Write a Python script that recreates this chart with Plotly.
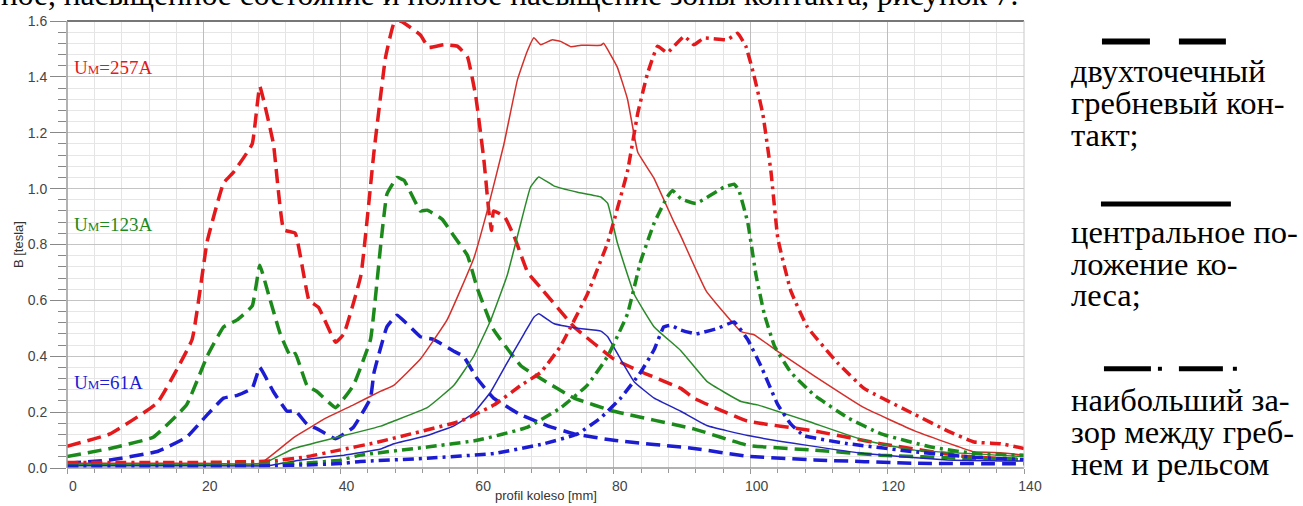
import plotly.graph_objects as go

# ---------------- data ----------------
# two-point flange contact (dashed)
x_red_dash = [0, 6.3, 13.2, 18.3, 20.5, 22.9, 24.4, 27.1, 28.2, 30.2, 31.7, 33.4, 35.4, 36.8, 39.3, 40.5, 43, 44.9, 46.6, 47.8, 48.8,
              51.7, 52.9, 55.1, 57.1, 58.6, 59.8, 61, 61.7, 62.1, 62.4, 64, 65.4, 67.4, 69.3, 74.2, 80, 84.4, 89.8, 91.7, 99.5,
              109.3, 119, 131.2, 140]
y_red_dash = [0.078, 0.122, 0.233, 0.46, 0.81, 1.02, 1.06, 1.16, 1.366, 1.16, 0.853, 0.84, 0.6, 0.575, 0.45, 0.48, 0.69, 1.13, 1.47, 1.59, 1.60,
              1.55, 1.505, 1.515, 1.51, 1.47, 1.33, 1.1, 0.92, 0.85, 0.92, 0.90, 0.83, 0.70, 0.645, 0.505, 0.39, 0.34, 0.285, 0.25, 0.168,
              0.133, 0.087, 0.042, 0.03]

x_green_dash = [0, 6.3, 12.6, 17.5, 20.5, 22.9, 24.9, 27.1, 28.2, 29.5, 31.2, 32.7, 33.4, 35.1, 36.6, 39.3, 41.9, 44.4, 45.9, 46.8,
                48.3, 49.3, 51.7, 52.7, 54.9, 56.6, 58.6, 60, 62.4, 66.4, 69.3, 74.2, 80, 91.7, 99.6, 109.3, 119, 131.2, 140]
y_green_dash = [0.041, 0.07, 0.11, 0.226, 0.40, 0.505, 0.53, 0.58, 0.726, 0.62, 0.48, 0.40, 0.41, 0.296, 0.273, 0.216, 0.296, 0.46, 0.80, 0.98,
                1.04, 1.03, 0.92, 0.923, 0.89, 0.83, 0.76, 0.645, 0.495, 0.366, 0.32, 0.25, 0.203, 0.14, 0.081, 0.064, 0.046, 0.035, 0.03]

x_blue_dash = [0, 6.3, 13.2, 17.5, 20.5, 22.9, 24.9, 27.1, 28.2, 30.2, 32.2, 33.4, 35.1, 36.6, 39.3, 41.9, 44.4, 44.9, 46.8, 48.3,
               51.7, 53.6, 56.6, 58, 60, 62.4, 66.4, 70.3, 74.2, 80, 91.7, 99.6, 109.3, 124, 140]
y_blue_dash = [0.017, 0.029, 0.059, 0.11, 0.19, 0.25, 0.26, 0.285, 0.36, 0.273, 0.203, 0.205, 0.157, 0.14, 0.105, 0.146, 0.25, 0.34, 0.505, 0.547,
               0.47, 0.46, 0.418, 0.40, 0.32, 0.25, 0.19, 0.151, 0.122, 0.099, 0.07, 0.042, 0.029, 0.017, 0.015]

# central wheel position (solid)
x_red_solid = [0, 10, 20, 28.3, 33.2, 38, 41.9, 45.9, 47.8, 51.7, 55.6, 59.5, 61.5, 63.9, 65.9, 67.3, 68.3, 69.3, 71, 72.2, 73.7, 75.2,
               78.1, 78.5, 80.5, 82, 83.5, 85.8, 88.8, 89.8, 93.5, 98.6, 100.5, 104.4, 109.3, 116.6, 124, 132.7, 136.6, 140]
y_red_solid = [0.017, 0.017, 0.017, 0.017, 0.11, 0.18, 0.226, 0.275, 0.296, 0.39, 0.53, 0.75, 0.923, 1.157, 1.39, 1.49, 1.54, 1.515, 1.533, 1.527, 1.508, 1.513,
               1.513, 1.52, 1.435, 1.32, 1.13, 1.04, 0.88, 0.83, 0.634, 0.488, 0.477, 0.41, 0.33, 0.216, 0.133, 0.058, 0.055, 0.046]

x_green_solid = [0, 10, 20, 28.3, 33.2, 39.5, 45.9, 47.8, 52.7, 56.6, 59.5, 62, 64.4, 66.4, 67.8, 69, 71.2, 74.7, 78.1, 79.1, 80.5,
                 83, 85.9, 89.8, 93.7, 98.6, 101, 108.3, 116.6, 124, 140]
y_green_solid = [0.012, 0.012, 0.012, 0.012, 0.07, 0.11, 0.15, 0.168, 0.216, 0.296, 0.40, 0.53, 0.69, 0.878, 1.005, 1.042, 1.01, 0.987, 0.97, 0.947, 0.807,
                 0.621, 0.505, 0.42, 0.308, 0.238, 0.226, 0.168, 0.099, 0.064, 0.041]

x_blue_solid = [0, 10, 20, 29.3, 34.2, 40.5, 45.9, 47.8, 52.7, 56.6, 59.5, 62, 64.4, 66.9, 68.3, 69, 71.2, 74.7, 78.1, 79.1, 81,
                83, 85.9, 89.8, 93.7, 99.6, 108.3, 116.6, 128.8, 140]
y_blue_solid = [0.008, 0.008, 0.008, 0.008, 0.029, 0.046, 0.068, 0.087, 0.116, 0.151, 0.197, 0.273, 0.377, 0.482, 0.54, 0.552, 0.517, 0.50, 0.49, 0.47, 0.389,
                0.308, 0.25, 0.203, 0.151, 0.116, 0.081, 0.052, 0.029, 0.025]

# largest flange-rail gap (dash-dot)
x_red_dd = [0, 20, 30, 35, 40, 45, 50.3, 57.6, 62.5, 66.4, 69.3, 72.2, 76.1, 79.1, 82, 83.5, 84.9, 86.4, 87.8, 90.3, 91.7, 93.2,
            96.6, 98.1, 99.3, 100.5, 101.8, 103, 104, 105.9, 108.3, 112.7, 116.6, 124, 128.8, 132.7, 136.6, 140]
y_red_dd = [0.02, 0.02, 0.025, 0.04, 0.065, 0.09, 0.122, 0.168, 0.226, 0.296, 0.342, 0.436, 0.621, 0.807, 1.063, 1.27, 1.41, 1.51, 1.487, 1.545, 1.515, 1.539,
            1.533, 1.556, 1.51, 1.405, 1.266, 1.057, 0.82, 0.633, 0.505, 0.377, 0.285, 0.192, 0.133, 0.093, 0.087, 0.07]

x_green_dd = [0, 20, 30, 35, 40, 42.9, 52.7, 60, 67.3, 72.2, 76.1, 79.1, 82, 83.9, 85.9, 87.8, 88.6, 89.8, 92, 96.1, 97.6, 98.3,
              99.6, 100.8, 102, 103.5, 105.9, 109.3, 114.2, 119.1, 126.4, 132.7, 140]
y_green_dd = [0.012, 0.012, 0.014, 0.018, 0.028, 0.046, 0.075, 0.099, 0.145, 0.215, 0.296, 0.40, 0.552, 0.738, 0.877, 0.97, 0.993, 0.964, 0.947, 1.005, 1.016, 0.993,
              0.877, 0.69, 0.552, 0.436, 0.342, 0.261, 0.18, 0.122, 0.075, 0.052, 0.046]

x_blue_dd = [0, 20, 30, 35, 40, 42.9, 52.7, 62.5, 69.8, 74.7, 78.1, 81, 83.9, 85.9, 87.3, 88.3, 89.8, 92, 95.2, 97.6, 99.6, 101.5,
             104, 105.9, 107.8, 114.2, 124, 132.7, 140]
y_blue_dd = [0.006, 0.006, 0.008, 0.011, 0.016, 0.023, 0.035, 0.052, 0.087, 0.122, 0.18, 0.25, 0.342, 0.424, 0.505, 0.511, 0.494, 0.48, 0.50, 0.523, 0.459, 0.366,
             0.226, 0.157, 0.116, 0.087, 0.058, 0.038, 0.03]

current_labels = ["U<span style='font-size:13px'>М</span>=257A",
                  "U<span style='font-size:13px'>М</span>=123A",
                  "U<span style='font-size:13px'>М</span>=61A"]
top_text = "ное, насыщенное состояние и полное насыщение зоны контакта, рисунок 7."
legend_lines_1 = ["двухточечный", "гребневый кон-", "такт;"]
legend_lines_2 = ["центральное по-", "ложение ко-", "леса;"]
legend_lines_3 = ["наибольший за-", "зор между греб-", "нем и рельсом"]

# ---------------- styling ----------------
RED, GREEN, BLUE = "#e3191c", "#1b8a1b", "#1c1cd2"
RED_T, GREEN_T, BLUE_T = "#d42f2a", "#2a8a2a", "#2424bf"
DASH = "14px,7px"
DASHDOT = "11px,5px,3px,5px"

L, R, T, B = 66.5, 1024.0, 20.5, 480.0
W, H = R - L, B - T


def px(xp):
    return (xp - L) / W


def py(yp):
    return (B - yp) / H


fig = go.Figure()

series = [
    (x_red_dash, y_red_dash, RED, 3.5, DASH),
    (x_green_dash, y_green_dash, GREEN, 3.5, DASH),
    (x_blue_dash, y_blue_dash, BLUE, 3.5, DASH),
    (x_red_solid, y_red_solid, RED_T, 1.5, "solid"),
    (x_green_solid, y_green_solid, GREEN_T, 1.5, "solid"),
    (x_blue_solid, y_blue_solid, BLUE_T, 1.5, "solid"),
    (x_red_dd, y_red_dd, RED, 3.5, DASHDOT),
    (x_green_dd, y_green_dd, GREEN, 3.5, DASHDOT),
    (x_blue_dd, y_blue_dd, BLUE, 3.5, DASHDOT),
]
for xs, ys, c, w, d in series:
    fig.add_trace(go.Scatter(x=xs, y=ys, mode="lines",
                             line=dict(color=c, width=w, dash=d, shape="spline", smoothing=0.3),
                             showlegend=False, hoverinfo="skip"))

tickfont = dict(family="Arial, Liberation Sans, sans-serif", size=14, color="#444")

fig.update_xaxes(range=[0, 140], dtick=20, tick0=0, showgrid=True, gridcolor="#bdbdbd", gridwidth=1,
                 ticks="outside", ticklen=5, tickcolor="#999", tickfont=tickfont,
                 ticklabelshift=6, zeroline=False, showline=False,
                 minor=dict(dtick=4, showgrid=True, gridcolor="#e4e4e4", ticks="outside", ticklen=4, tickcolor="#999"))
fig.update_yaxes(range=[0, 1.6], dtick=0.2, tick0=0, tickformat=".1f", showgrid=True, gridcolor="#c4c4c4", gridwidth=1,
                 ticks="outside", ticklen=16, tickcolor="#888", tickfont=tickfont, zeroline=False, showline=False,
                 minor=dict(dtick=0.04, showgrid=True, gridcolor="#e6e6e6", ticks="outside", ticklen=8, tickcolor="#888"))

shapes = [
    dict(type="line", xref="paper", yref="paper", x0=0, x1=1, y0=1, y1=1, line=dict(color="#777", width=2)),
    dict(type="line", xref="paper", yref="paper", x0=0, x1=1, y0=0, y1=0, line=dict(color="#999", width=1.5)),
    dict(type="line", xref="paper", yref="paper", x0=0, x1=0, y0=0, y1=1, line=dict(color="#999", width=1.5)),
    dict(type="line", xref="paper", yref="paper", x0=1, x1=1, y0=0, y1=1, line=dict(color="#c8c8c8", width=1)),
    # legend samples
    dict(type="line", xref="paper", yref="paper", x0=px(1102), x1=px(1150), y0=py(41.5), y1=py(41.5), line=dict(color="black", width=6)),
    dict(type="line", xref="paper", yref="paper", x0=px(1179), x1=px(1226), y0=py(41.5), y1=py(41.5), line=dict(color="black", width=6)),
    dict(type="line", xref="paper", yref="paper", x0=px(1101), x1=px(1231), y0=py(208.5), y1=py(208.5), line=dict(color="black", width=5)),
    dict(type="line", xref="paper", yref="paper", x0=px(1104), x1=px(1151), y0=py(378), y1=py(378), line=dict(color="black", width=5)),
    dict(type="line", xref="paper", yref="paper", x0=px(1158), x1=px(1162), y0=py(378), y1=py(378), line=dict(color="black", width=4)),
    dict(type="line", xref="paper", yref="paper", x0=px(1179), x1=px(1223), y0=py(378), y1=py(378), line=dict(color="black", width=5)),
    dict(type="line", xref="paper", yref="paper", x0=px(1233), x1=px(1237), y0=py(378), y1=py(378), line=dict(color="black", width=4)),
]

serif = "'Liberation Serif', 'Times New Roman', serif"
annotations = []
for txt, yc, c in zip(current_labels, [68, 230, 392], [RED, GREEN, BLUE]):
    annotations.append(dict(text=txt, xref="paper", yref="paper", x=px(72), y=py(yc), xanchor="left", yanchor="middle",
                            showarrow=False, font=dict(family=serif, size=19, color=c)))

annotations.append(dict(text=top_text, xref="paper", yref="paper", x=px(-2), y=py(-7), xanchor="left", yanchor="middle",
                        showarrow=False, font=dict(family=serif, size=31.5, color="black")))

for lines, ys in [(legend_lines_1, [72, 105, 138]), (legend_lines_2, [237, 270, 302]), (legend_lines_3, [410, 443, 476])]:
    for t, yc in zip(lines, ys):
        annotations.append(dict(text=t, xref="paper", yref="paper", x=px(1069), y=py(yc), xanchor="left", yanchor="middle",
                                showarrow=False, font=dict(family=serif, size=32.5, color="black")))

annotations.append(dict(text="B [tesla]", xref="paper", yref="paper", x=px(18), y=0.5, xanchor="center", yanchor="middle",
                        textangle=-90, showarrow=False, font=dict(family="Arial, Liberation Sans, sans-serif", size=13, color="#333")))
annotations.append(dict(text="profil koleso [mm]", xref="paper", yref="paper", x=0.5, y=py(499), xanchor="center", yanchor="top",
                        showarrow=False, font=dict(family="Arial, Liberation Sans, sans-serif", size=13, color="#333")))

fig.update_layout(width=1303, height=506, autosize=False,
                  margin=dict(l=L, r=1303 - R, t=T, b=506 - B, pad=0),
                  paper_bgcolor="white", plot_bgcolor="white",
                  shapes=shapes, annotations=annotations, showlegend=False)

fig.write_html("out.html")
